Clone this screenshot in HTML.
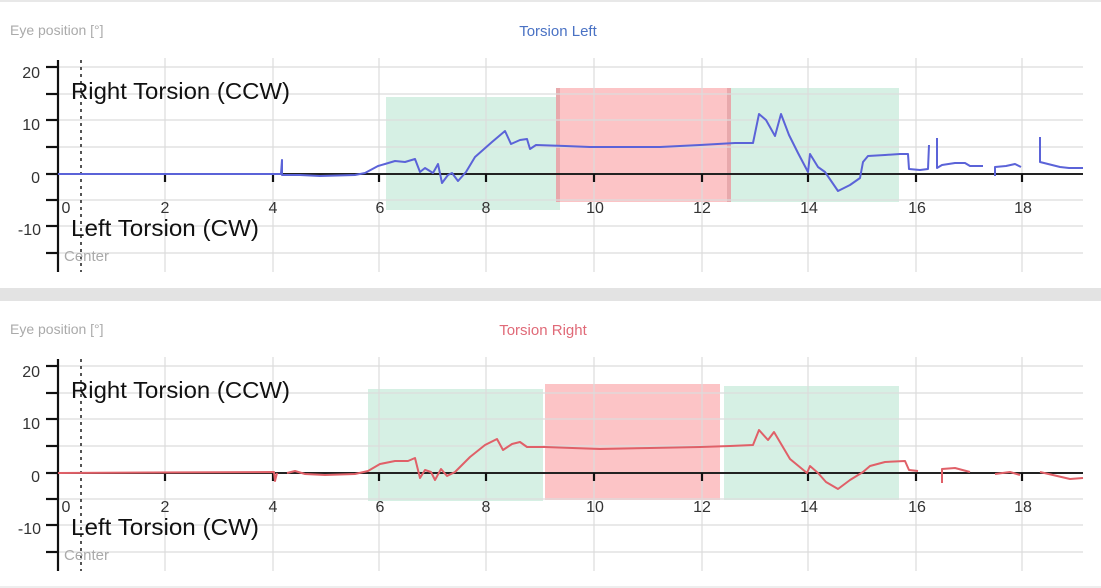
<!DOCTYPE html>
<html><head><meta charset="utf-8"><style>
html,body{margin:0;padding:0;background:#fff;}
svg{display:block;}
text{font-family:"Liberation Sans",sans-serif;}
</style></head><body>
<svg width="1101" height="588" viewBox="0 0 1101 588" xmlns="http://www.w3.org/2000/svg">
<rect x="0" y="0" width="1101" height="588" fill="#fff"/>
<rect x="0" y="0" width="1101" height="2" fill="#e8e8e8"/>
<rect x="0" y="288" width="1101" height="13" fill="#e3e3e3"/>
<rect x="0" y="586" width="1101" height="2" fill="#eee"/>

<defs>
<g id="grid">
  <g stroke="#dcdcdc" stroke-width="1.2">
    <line x1="58" y1="67" x2="1083" y2="67"/>
    <line x1="58" y1="94" x2="1083" y2="94"/>
    <line x1="58" y1="120" x2="1083" y2="120"/>
    <line x1="58" y1="147" x2="1083" y2="147"/>
    <line x1="58" y1="200" x2="1083" y2="200"/>
    <line x1="58" y1="226" x2="1083" y2="226"/>
    <line x1="58" y1="253" x2="1083" y2="253"/>
    <line x1="165" y1="58" x2="165" y2="272"/>
    <line x1="273" y1="58" x2="273" y2="272"/>
    <line x1="379" y1="58" x2="379" y2="272"/>
    <line x1="486" y1="58" x2="486" y2="272"/>
    <line x1="594" y1="58" x2="594" y2="272"/>
    <line x1="702" y1="58" x2="702" y2="272"/>
    <line x1="808" y1="58" x2="808" y2="272"/>
    <line x1="916" y1="58" x2="916" y2="272"/>
    <line x1="1022" y1="58" x2="1022" y2="272"/>
  </g>
</g>
<g id="axes">
  <line x1="58" y1="60" x2="58" y2="272" stroke="#111" stroke-width="2.2"/>
  <line x1="58" y1="174" x2="1083" y2="174" stroke="#222" stroke-width="2"/>
  <line x1="81" y1="60" x2="81" y2="272" stroke="#555" stroke-width="2" stroke-dasharray="3,4"/>
  <g stroke="#111" stroke-width="2.2">
    <line x1="46" y1="67" x2="58" y2="67"/><line x1="46" y1="94" x2="58" y2="94"/>
    <line x1="46" y1="120" x2="58" y2="120"/><line x1="46" y1="147" x2="58" y2="147"/>
    <line x1="46" y1="174" x2="58" y2="174"/><line x1="46" y1="200" x2="58" y2="200"/>
    <line x1="46" y1="226" x2="58" y2="226"/><line x1="46" y1="253" x2="58" y2="253"/>
    <line x1="165" y1="174" x2="165" y2="182"/><line x1="273" y1="174" x2="273" y2="182"/>
    <line x1="379" y1="174" x2="379" y2="182"/><line x1="486" y1="174" x2="486" y2="182"/>
    <line x1="594" y1="174" x2="594" y2="182"/><line x1="702" y1="174" x2="702" y2="182"/>
    <line x1="808" y1="174" x2="808" y2="182"/><line x1="916" y1="174" x2="916" y2="182"/>
    <line x1="1022" y1="174" x2="1022" y2="182"/>
  </g>
  <g font-size="16" fill="#333" text-anchor="end">
    <text x="40" y="78">20</text><text x="40" y="130">10</text>
    <text x="40" y="183">0</text><text x="41" y="235">-10</text>
  </g>
  <g font-size="16" fill="#333" text-anchor="middle">
    <text x="66" y="213">0</text><text x="165" y="213">2</text><text x="273" y="213">4</text>
    <text x="380" y="213">6</text><text x="486" y="213">8</text><text x="595" y="213">10</text>
    <text x="702" y="213">12</text><text x="809" y="213">14</text><text x="917" y="213">16</text>
    <text x="1023" y="213">18</text>
  </g>
  <text x="71" y="99" font-size="23.5" fill="#111" textLength="219" lengthAdjust="spacingAndGlyphs">Right Torsion (CCW)</text>
  <text x="71" y="236" font-size="23.5" fill="#111" textLength="188" lengthAdjust="spacingAndGlyphs">Left Torsion (CW)</text>
  <text x="64" y="261" font-size="15" fill="#aaa">Center</text>
  <text x="10" y="35" font-size="14" fill="#aaa">Eye position [°]</text>
</g>
</defs>

<!-- TOP PANEL -->
<g>
  <rect x="386" y="97" width="174" height="113" fill="#d6f0e4"/>
  <rect x="556" y="88" width="175" height="114" fill="#fcc4c6"/>
  <rect x="556" y="88" width="4" height="114" fill="#e8a9ac"/>
  <rect x="727" y="88" width="4" height="114" fill="#e8a9ac"/>
  <rect x="731" y="88" width="168" height="114" fill="#d6f0e4"/>
  <use href="#grid"/>
  <use href="#axes"/>
  <text x="558" y="36" font-size="15" fill="#4a72c4" text-anchor="middle">Torsion Left</text>
  <g fill="none" stroke="#5b63d8" stroke-width="2" stroke-linejoin="round">
    <path d="M58,174 L281,174 L282,160 L282,175 L300,175 L320,176 L355,175 L365,173 L378,166 L385,164 L395,161 L405,162 L415,159 L420,172 L425,168 L433,173 L438,164 L442,183 L448,175 L452,173 L458,181 L466,172 L475,157 L492,142 L505,131 L511,144 L520,140 L527,139 L530,149 L536,145 L565,146 L590,147 L625,147 L660,147 L700,145 L735,143 L753,143 L759,114 L766,120 L775,136 L781,114 L789,135 L798,153 L808,172 L810,154 L818,167 L825,172 L838,191 L850,185 L860,178 L863,162 L868,156 L885,155 L900,154 L908,154 L909,169 L920,170 L928,169 L929,145"/>
    <path d="M937,138 L937,168 L942,165 L955,163 L965,163 L970,166 L983,166"/>
    <path d="M995,176 L995,167 L1006,166 L1015,164 L1021,167"/>
    <path d="M1040,137 L1040,162 L1060,167 L1069,168 L1083,168"/>
  </g>
</g>

<!-- BOTTOM PANEL -->
<g transform="translate(0,299)">
  <rect x="368" y="90" width="175" height="112" fill="#d6f0e4"/>
  <rect x="545" y="85" width="175" height="116" fill="#fcc4c6"/>
  <rect x="724" y="87" width="175" height="114" fill="#d6f0e4"/>
  <use href="#grid"/>
  <use href="#axes"/>
  <text x="543" y="36" font-size="15" fill="#e06a78" text-anchor="middle">Torsion Right</text>
  <g fill="none" stroke="#e06068" stroke-width="2" stroke-linejoin="round">
    <path d="M58,174 L150,173.5 L274,173 L275,182 L277,174"/>
    <path d="M287,174 L295,172 L305,175 L325,176 L355,175 L368,172 L380,165 L395,162 L408,162 L415,159 L420,179 L425,171 L431,173 L435,181 L441,170 L447,177 L455,173 L470,158 L485,146 L497,140 L503,151 L512,145 L520,143 L527,148 L545,148 L600,150 L650,149 L700,148 L730,147 L753,146 L759,131 L768,141 L774,133 L790,160 L807,174 L810,167 L818,174 L826,183 L838,190 L850,181 L863,173 L870,167 L885,163 L905,162 L909,171 L918,172"/>
    <path d="M942,184 L942,170 L955,169 L970,173"/>
    <path d="M995,175 L1010,173 L1020,176"/>
    <path d="M1040,173 L1070,180 L1083,179"/>
  </g>
</g>
</svg>
</body></html>
